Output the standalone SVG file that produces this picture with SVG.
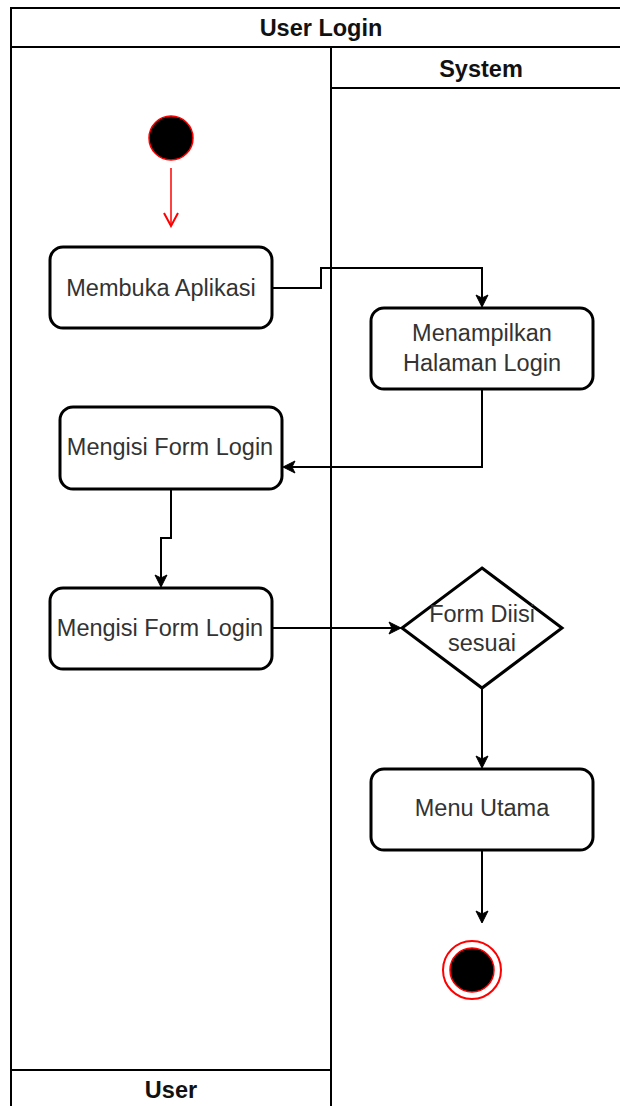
<svg xmlns="http://www.w3.org/2000/svg" width="620" height="1106" viewBox="0 0 620 1106">
<style>
.lane{fill:none;stroke:#000;stroke-width:2}
.hdr{font-family:"Liberation Sans",Arial,sans-serif;font-size:23.5px;font-weight:bold;fill:#111;text-anchor:middle}
.node{fill:#fff;stroke:#000;stroke-width:3}
.lbl{font-family:"Liberation Sans",Arial,sans-serif;font-size:23.5px;fill:#333;text-anchor:middle}
.edge{fill:none;stroke:#000;stroke-width:2}
</style>
<defs>
<marker id="arr" markerWidth="14" markerHeight="14" refX="12" refY="7" orient="auto" markerUnits="userSpaceOnUse">
<path d="M1,1 L13,7 L1,13 L4,7 Z" fill="#000" stroke="#000" stroke-width="1"/>
</marker>
<marker id="open" markerWidth="16" markerHeight="16" refX="14" refY="8" orient="auto" markerUnits="userSpaceOnUse">
<path d="M1,1 L14,8 L1,15" fill="none" stroke="#f00" stroke-width="2"/>
</marker>
</defs>
<rect width="620" height="1106" fill="#fff"/>
<g id="pool">
<path class="lane" d="M620,8 H11 V1106"/>
<line class="lane" x1="11" y1="47" x2="620" y2="47"/>
<text class="hdr" x="321" y="36">User Login</text>
<line class="lane" x1="331" y1="47" x2="331" y2="1106"/>
<line class="lane" x1="331" y1="88" x2="620" y2="88"/>
<text class="hdr" x="481" y="77">System</text>
<line class="lane" x1="11" y1="1070" x2="331" y2="1070"/>
<text class="hdr" x="171" y="1098">User</text>
</g>
<g id="connectors">
<line x1="171" y1="168" x2="171" y2="226" stroke="#f00" stroke-width="1.5" marker-end="url(#open)"/>
<path class="edge" d="M272,288 H321 V268 H482 V306" marker-end="url(#arr)"/>
<path class="edge" d="M482,389 V467 H284" marker-end="url(#arr)"/>
<path class="edge" d="M171,489 V538 H161 V586" marker-end="url(#arr)"/>
<path class="edge" d="M272,628 H400" marker-end="url(#arr)"/>
<path class="edge" d="M482,688 V767" marker-end="url(#arr)"/>
<path class="edge" d="M482,850 V922" marker-end="url(#arr)"/>
</g>
<g id="start">
<circle cx="171" cy="138" r="22" fill="#000" stroke="#f00" stroke-width="1.5"/>
</g>
<g id="membuka">
<rect class="node" x="50" y="247" width="222" height="81" rx="13"/>
<text class="lbl" x="161" y="296">Membuka Aplikasi</text>
</g>
<g id="menampilkan">
<rect class="node" x="371" y="308" width="222" height="81" rx="13"/>
<text class="lbl" x="482" y="341">Menampilkan</text>
<text class="lbl" x="482" y="371">Halaman Login</text>
</g>
<g id="mengisi1">
<rect class="node" x="60" y="407" width="222" height="82" rx="13"/>
<text class="lbl" x="170" y="455">Mengisi Form Login</text>
</g>
<g id="mengisi2">
<rect class="node" x="50" y="588" width="222" height="81" rx="13"/>
<text class="lbl" x="160" y="636">Mengisi Form Login</text>
</g>
<g id="decision">
<polygon class="node" points="482,568 562,628 482,688 402,628"/>
<text class="lbl" x="482" y="622">Form Diisi</text>
<text class="lbl" x="482" y="651">sesuai</text>
</g>
<g id="menu">
<rect class="node" x="371" y="769" width="222" height="81" rx="13"/>
<text class="lbl" x="482" y="816">Menu Utama</text>
</g>
<g id="end">
<circle cx="472" cy="970" r="29" fill="#fff" stroke="#f00" stroke-width="2"/>
<circle cx="472" cy="970" r="22" fill="#000" stroke="#f00" stroke-width="1.5"/>
</g>
</svg>
